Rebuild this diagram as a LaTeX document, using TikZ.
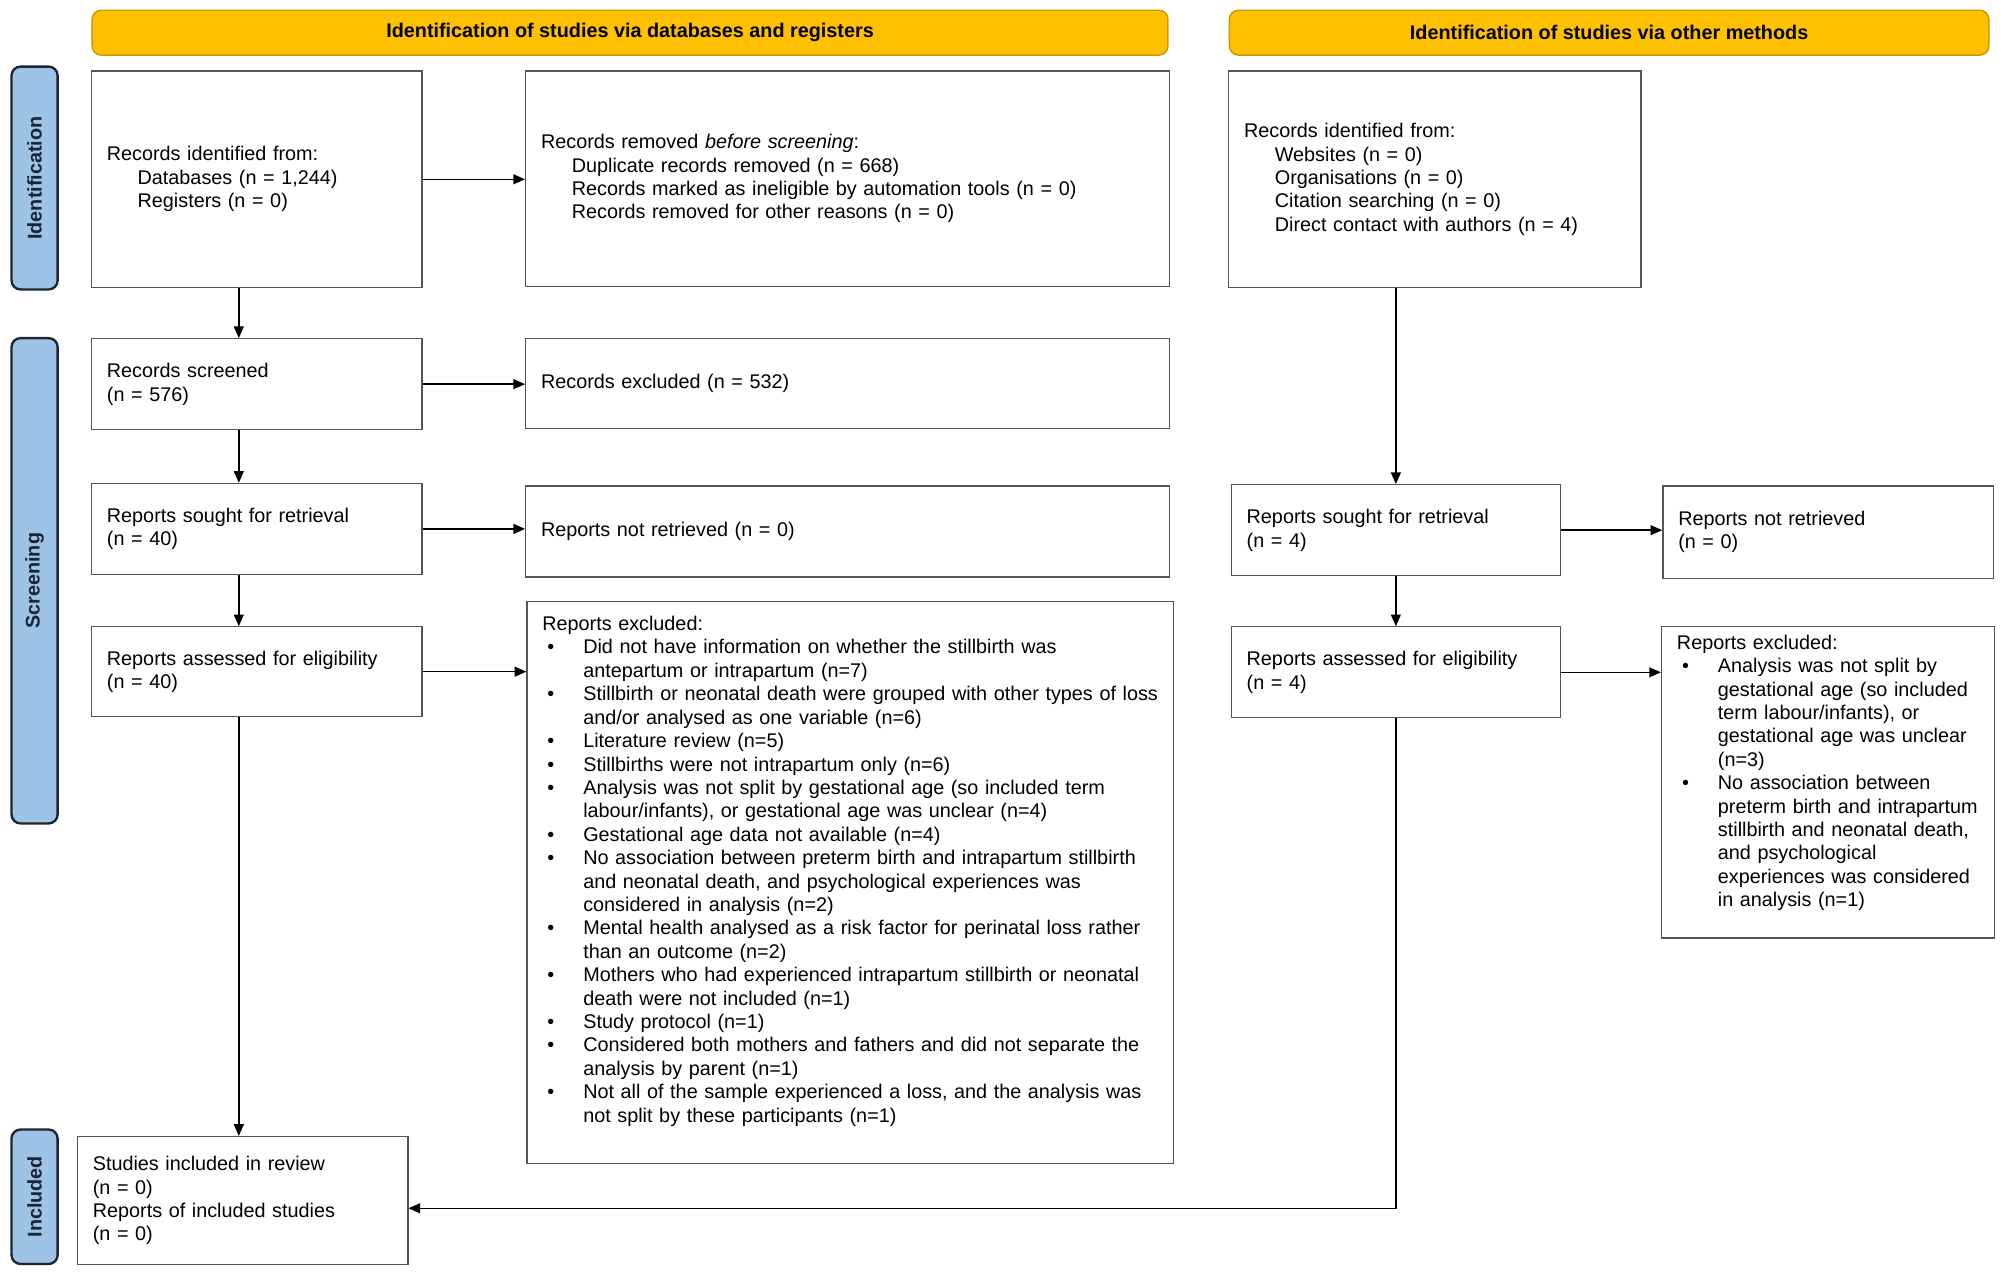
\documentclass[tikz,border=0pt]{standalone}
\usepackage{fontspec}
\setmainfont{Liberation Sans}
\usetikzlibrary{arrows.meta}

\definecolor{bannergold}{HTML}{FFC000}
\definecolor{bannerline}{HTML}{C99A06}
\definecolor{phaseblue}{HTML}{9DC3E6}
\definecolor{phaseline}{HTML}{1C2530}
\definecolor{phasetext}{HTML}{1A2433}
\definecolor{boxline}{HTML}{555555}

\newcommand{\subl}{\hspace*{0.6cm}}
\newcommand{\exitem}[1]{\par\hangindent=0.8cm\hangafter=1\noindent\hspace*{0.1cm}\makebox[0.7cm][l]{\textbullet}#1}

\begin{document}
\begin{tikzpicture}[>={Triangle[length=6.5pt, width=5.5pt]}]
    \tikzstyle{banner}=[draw=bannerline, fill=bannergold, rounded corners=5pt, line width=0.8pt, minimum height=0.875cm, font=\fontsize{11}{13}\selectfont\bfseries]
    \tikzstyle{phase}=[draw=phaseline, fill=phaseblue, rounded corners=5pt, line width=1.3pt, rotate=90, minimum height=0.9cm, text=phasetext, font=\fontsize{11}{13}\selectfont\bfseries]
    \tikzstyle{box}=[draw=boxline, line width=0.7pt, anchor=north west, align=left, inner xsep=0.3cm, inner ysep=0pt, font=\fontsize{11}{13}\selectfont]
    \tikzstyle{arr}=[->, line width=0.8pt]
    \useasboundingbox (0, 0) rectangle (39.2, -24.875);

    \node [banner, minimum width=21cm] (headdb) at (12.3, -0.6375) {Identification of studies via databases and registers};
    \node [banner, minimum width=14.825cm] (headother) at (31.4125, -0.6375) {Identification of studies via other methods};

    \node [phase, minimum width=4.35cm] (phaseid) at (0.675, -3.475) {Identification};
    \node [phase, minimum width=9.475cm] (phasescr) at (0.675, -11.3375) {Screening};
    \node [phase, minimum width=2.625cm] (phaseinc) at (0.675, -23.3625) {Included};

    \node [box, minimum height=4.225cm, text width=5.85cm] (ident) at (1.775, -1.375)
        {Records identified from:\\ \subl Databases (n = 1,244)\\ \subl Registers (n = 0)};
    \node [box, minimum height=4.2cm, text width=11.975cm] (removed) at (10.25, -1.375)
        {Records removed \textit{before screening}:\\ \subl Duplicate records removed (n = 668)\\ \subl Records marked as ineligible by automation tools (n = 0)\\ \subl Records removed for other reasons (n = 0)};
    \node [box, minimum height=4.225cm, text width=7.45cm] (otherid) at (23.975, -1.375)
        {Records identified from:\\ \subl Websites (n = 0)\\ \subl Organisations (n = 0)\\ \subl Citation searching (n = 0)\\ \subl Direct contact with authors (n = 4)};

    \node [box, minimum height=1.775cm, text width=5.85cm] (screened) at (1.775, -6.6) {Records screened\\(n = 576)};
    \node [box, minimum height=1.75cm, text width=11.975cm] (recexcl) at (10.25, -6.6) {Records excluded (n = 532)};
    \node [box, minimum height=1.775cm, text width=5.85cm] (sought) at (1.775, -9.425) {Reports sought for retrieval\\(n = 40)};
    \node [box, minimum height=1.775cm, text width=11.975cm] (notretr) at (10.25, -9.475) {Reports not retrieved (n = 0)};
    \node [box, minimum height=1.75cm, text width=5.85cm] (assessed) at (1.775, -12.225) {Reports assessed for eligibility\\(n = 40)};
    \node [box, minimum height=10.975cm, text width=12.025cm] (repexcl) at (10.275, -11.725)
        {Reports excluded:
        \exitem{Did not have information on whether the stillbirth was\newline antepartum or intrapartum (n=7)}
        \exitem{Stillbirth or neonatal death were grouped with other types of loss\newline and/or analysed as one variable (n=6)}
        \exitem{Literature review (n=5)}
        \exitem{Stillbirths were not intrapartum only (n=6)}
        \exitem{Analysis was not split by gestational age (so included term\newline labour/infants), or gestational age was unclear (n=4)}
        \exitem{Gestational age data not available (n=4)}
        \exitem{No association between preterm birth and intrapartum stillbirth\newline and neonatal death, and psychological experiences was\newline considered in analysis (n=2)}
        \exitem{Mental health analysed as a risk factor for perinatal loss rather\newline than an outcome (n=2)}
        \exitem{Mothers who had experienced intrapartum stillbirth or neonatal\newline death were not included (n=1)}
        \exitem{Study protocol (n=1)}
        \exitem{Considered both mothers and fathers and did not separate the\newline analysis by parent (n=1)}
        \exitem{Not all of the sample experienced a loss, and the analysis was\newline not split by these participants (n=1)}\par\rule{0pt}{0.4cm}};
    \node [box, minimum height=2.5cm, text width=5.85cm] (included) at (1.5, -22.175)
        {Studies included in review\\(n = 0)\\Reports of included studies\\(n = 0)};

    \node [box, minimum height=1.775cm, text width=5.825cm] (soughtr) at (24.025, -9.45) {Reports sought for retrieval\\(n = 4)};
    \node [box, minimum height=1.8cm, text width=5.85cm] (notretrr) at (32.45, -9.475) {Reports not retrieved\\(n = 0)};
    \node [box, minimum height=1.775cm, text width=5.825cm] (assessedr) at (24.025, -12.225) {Reports assessed for eligibility\\(n = 4)};
    \node [box, minimum height=6.075cm, text width=5.9cm] (repexclr) at (32.425, -12.225)
        {Reports excluded:
        \exitem{Analysis was not split by\newline gestational age (so included\newline term labour/infants), or\newline gestational age was unclear\newline (n=3)}
        \exitem{No association between\newline preterm birth and intrapartum\newline stillbirth and neonatal death,\newline and psychological\newline experiences was considered\newline in analysis (n=1)}\par\rule{0pt}{0.2cm}};

    \draw [arr] ([xshift=-0.35cm]ident.south) -- ([xshift=-0.35cm]screened.north);
    \draw [arr] ([xshift=-0.35cm]screened.south) -- ([xshift=-0.35cm]sought.north);
    \draw [arr] ([xshift=-0.35cm]sought.south) -- ([xshift=-0.35cm]assessed.north);
    \draw [arr] ([xshift=-0.35cm]assessed.south) -- ([xshift=-0.35cm]assessed.south |- included.north);
    \draw [arr] (ident.east) -- (ident.east -| removed.west);
    \draw [arr] (screened.east) -- (screened.east -| recexcl.west);
    \draw [arr] (sought.east) -- (sought.east -| notretr.west);
    \draw [arr] (assessed.east) -- (assessed.east -| repexcl.west);

    \draw [arr] (soughtr.north |- otherid.south) -- (soughtr.north);
    \draw [arr] (soughtr.south) -- (assessedr.north);
    \draw [arr] (soughtr.east) -- (soughtr.east -| notretrr.west);
    \draw [arr] (assessedr.east) -- (assessedr.east -| repexclr.west);
    \draw [arr] (assessedr.south) |- ([yshift=-0.15cm]included.east);
\end{tikzpicture}
\end{document}
